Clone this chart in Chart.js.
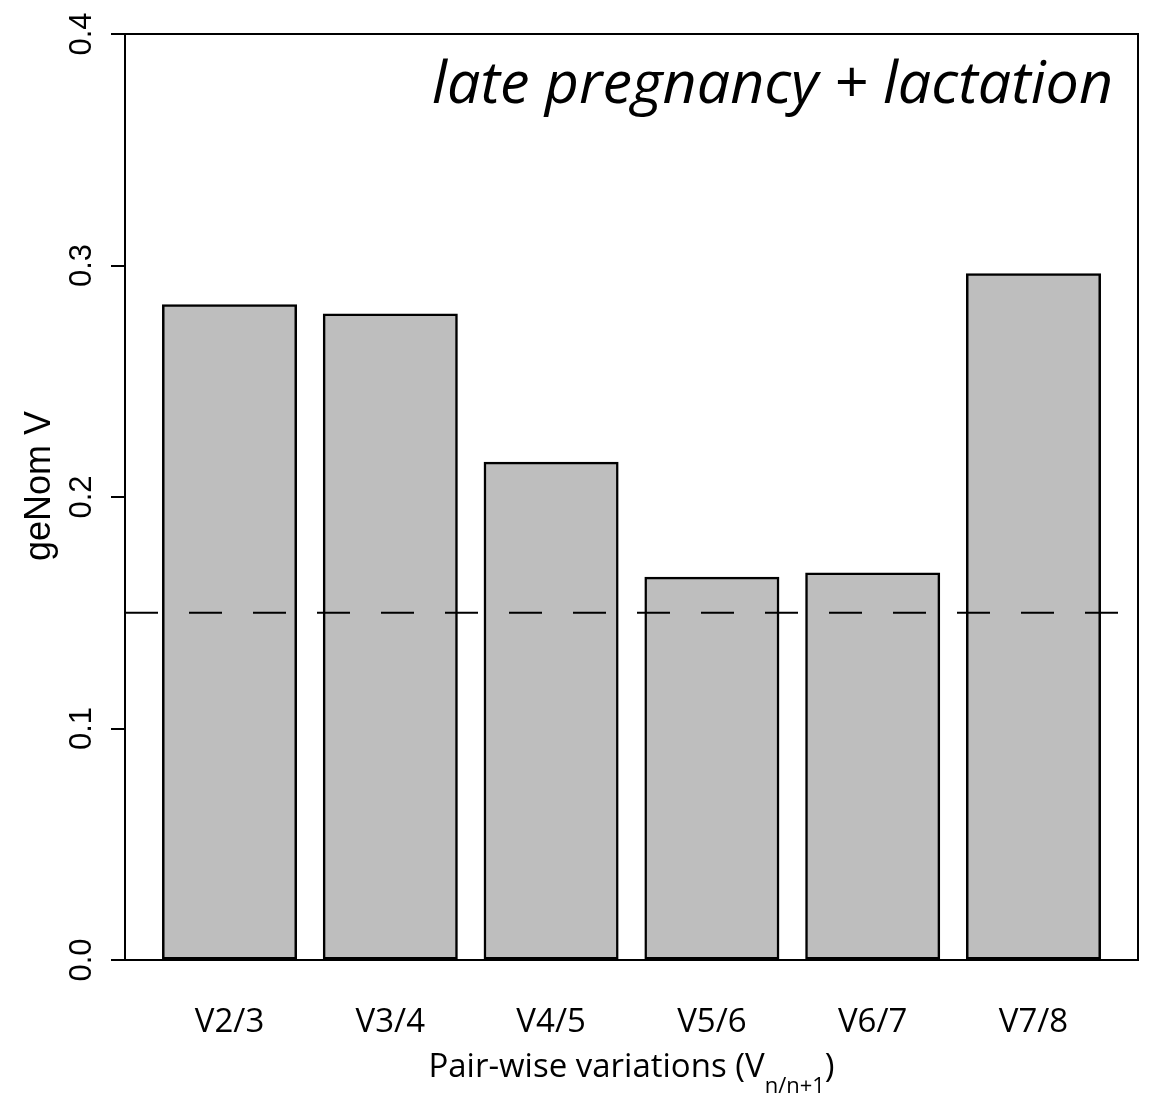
<!DOCTYPE html>
<html>
<head>
<meta charset="utf-8">
<title>geNom V pair-wise variations</title>
<script src="https://cdn.jsdelivr.net/npm/chart.js@4.4.1/dist/chart.umd.min.js"></script>
<style>
    body { margin: 0; background: #ffffff; }
    #chart-box { width: 1156px; height: 1098px; position: relative; }
</style>
</head>
<body>
<div id="chart-box">
    <canvas id="genorm-chart"></canvas>
</div>
<script>

var pairLabels = ["V2/3", "V3/4", "V4/5", "V5/6", "V6/7", "V7/8"];
var pairValues = [0.283, 0.279, 0.215, 0.1653, 0.1672, 0.2964];
var barPositions = [0.7, 1.9, 3.1, 4.3, 5.5, 6.7];
var yTickValues = [0.0, 0.1, 0.2, 0.3, 0.4];
var cutoffValue = 0.15;

var plotTitle = "late pregnancy + lactation";
var yTitle = "geNom V";
var xTitleMain = "Pair-wise variations (V";
var xTitleSub = "n/n+1";

// box round the plot, plus the 0.15 cut-off line
var framePlugin = {
    id: "frame",
    afterDatasetsDraw: function (chart) {
        var ctx = chart.ctx;
        var area = chart.chartArea;
        var yScale = chart.scales.y;
        var cutY = yScale.getPixelForValue(cutoffValue);

        ctx.save();
        ctx.strokeStyle = "#000000";
        ctx.lineWidth = 2;
        ctx.setLineDash([33, 31]);
        ctx.beginPath();
        ctx.moveTo(area.left, cutY);
        ctx.lineTo(area.right, cutY);
        ctx.stroke();

        ctx.setLineDash([]);
        ctx.strokeRect(area.left, area.top, area.right - area.left, area.bottom - area.top);
        ctx.restore();
    }
};

// R style text: rotated y tick labels, titles, subscript
var textPlugin = {
    id: "rtext",
    afterDraw: function (chart) {
        var ctx = chart.ctx;
        var area = chart.chartArea;
        var yScale = chart.scales.y;

        ctx.save();
        ctx.fillStyle = "#000000";

        ctx.font = "31px 'Liberation Sans', Arial, sans-serif";
        ctx.textAlign = "center";
        ctx.textBaseline = "alphabetic";
        for (var i = 0; i < yTickValues.length; i++) {
            var ty = yScale.getPixelForValue(yTickValues[i]);
            ctx.save();
            ctx.translate(91, ty);
            ctx.rotate(-Math.PI / 2);
            ctx.fillText(yTickValues[i].toFixed(1), 0, 0);
            ctx.restore();
        }

        ctx.save();
        ctx.font = "36px 'Liberation Sans', Arial, sans-serif";
        ctx.translate(50, 486);
        ctx.rotate(-Math.PI / 2);
        ctx.fillText(yTitle, 0, 0);
        ctx.restore();

        // x title with subscript, centred under the plot
        var mainFont = "33px 'Open Sans', sans-serif";
        var subFont = "22px 'Open Sans', sans-serif";
        ctx.textAlign = "left";
        ctx.font = mainFont;
        var w1 = ctx.measureText(xTitleMain).width;
        var w3 = ctx.measureText(")").width;
        ctx.font = subFont;
        var w2 = ctx.measureText(xTitleSub).width;
        var startX = (area.left + area.right) / 2 - (w1 + w2 + w3) / 2;
        ctx.font = mainFont;
        ctx.fillText(xTitleMain, startX, 1077);
        ctx.font = subFont;
        ctx.fillText(xTitleSub, startX + w1, 1093);
        ctx.font = mainFont;
        ctx.fillText(")", startX + w1 + w2, 1077);

        // panel title, fitted to the width it has in the figure
        ctx.font = "italic 100px 'Open Sans', sans-serif";
        var fullW = ctx.measureText(plotTitle).width;
        var size = 100 * 681 / fullW;
        ctx.font = "italic " + size.toFixed(1) + "px 'Open Sans', sans-serif";
        ctx.textAlign = "right";
        ctx.fillText(plotTitle, 1113, 103);

        ctx.restore();
    }
};

function buildChart() {

    var points = pairValues.map(function (v, i) {
        return { x: barPositions[i], y: v };
    });

    new Chart(
        document.getElementById("genorm-chart"),
        {
            type: "bar",
            data: {
                datasets: [{
                    label: yTitle,
                    data: points,
                    backgroundColor: "#bebebe",
                    borderColor: "#000000",
                    borderWidth: 2.5,
                    borderSkipped: false,
                    inflateAmount: 0.5,
                    categoryPercentage: 1,
                    barPercentage: 1 / 1.2
                }]
            },
            options: {
                responsive: true,
                maintainAspectRatio: false,
                animation: false,
                layout: {
                    padding: { top: 34, right: 18, left: 0, bottom: 0 }
                },
                scales: {
                    x: {
                        type: "linear",
                        offset: false,
                        min: -0.08,
                        max: 7.48,
                        afterBuildTicks: function (scale) {
                            scale.ticks = barPositions.map(function (p) { return { value: p }; });
                        },
                        afterFit: function (scale) {
                            scale.height = 138;
                        },
                        grid: { display: false },
                        border: { display: false },
                        ticks: {
                            autoSkip: false,
                            maxRotation: 0,
                            padding: 35,
                            color: "#000000",
                            font: { family: "'Open Sans', sans-serif", size: 33 },
                            callback: function (value, index) {
                                return pairLabels[index];
                            }
                        }
                    },
                    y: {
                        min: 0,
                        max: 0.4,
                        afterBuildTicks: function (scale) {
                            scale.ticks = yTickValues.map(function (v) { return { value: v }; });
                        },
                        afterFit: function (scale) {
                            scale.width = 125;
                        },
                        border: { display: false },
                        grid: {
                            display: true,
                            drawOnChartArea: false,
                            drawTicks: true,
                            tickLength: 14,
                            color: "#000000",
                            lineWidth: 2
                        },
                        ticks: { display: false }
                    }
                },
                plugins: {
                    legend: { display: false },
                    tooltip: { enabled: false }
                }
            },
            plugins: [framePlugin, textPlugin]
        }
    );

}

buildChart();

</script>
</body>
</html>
